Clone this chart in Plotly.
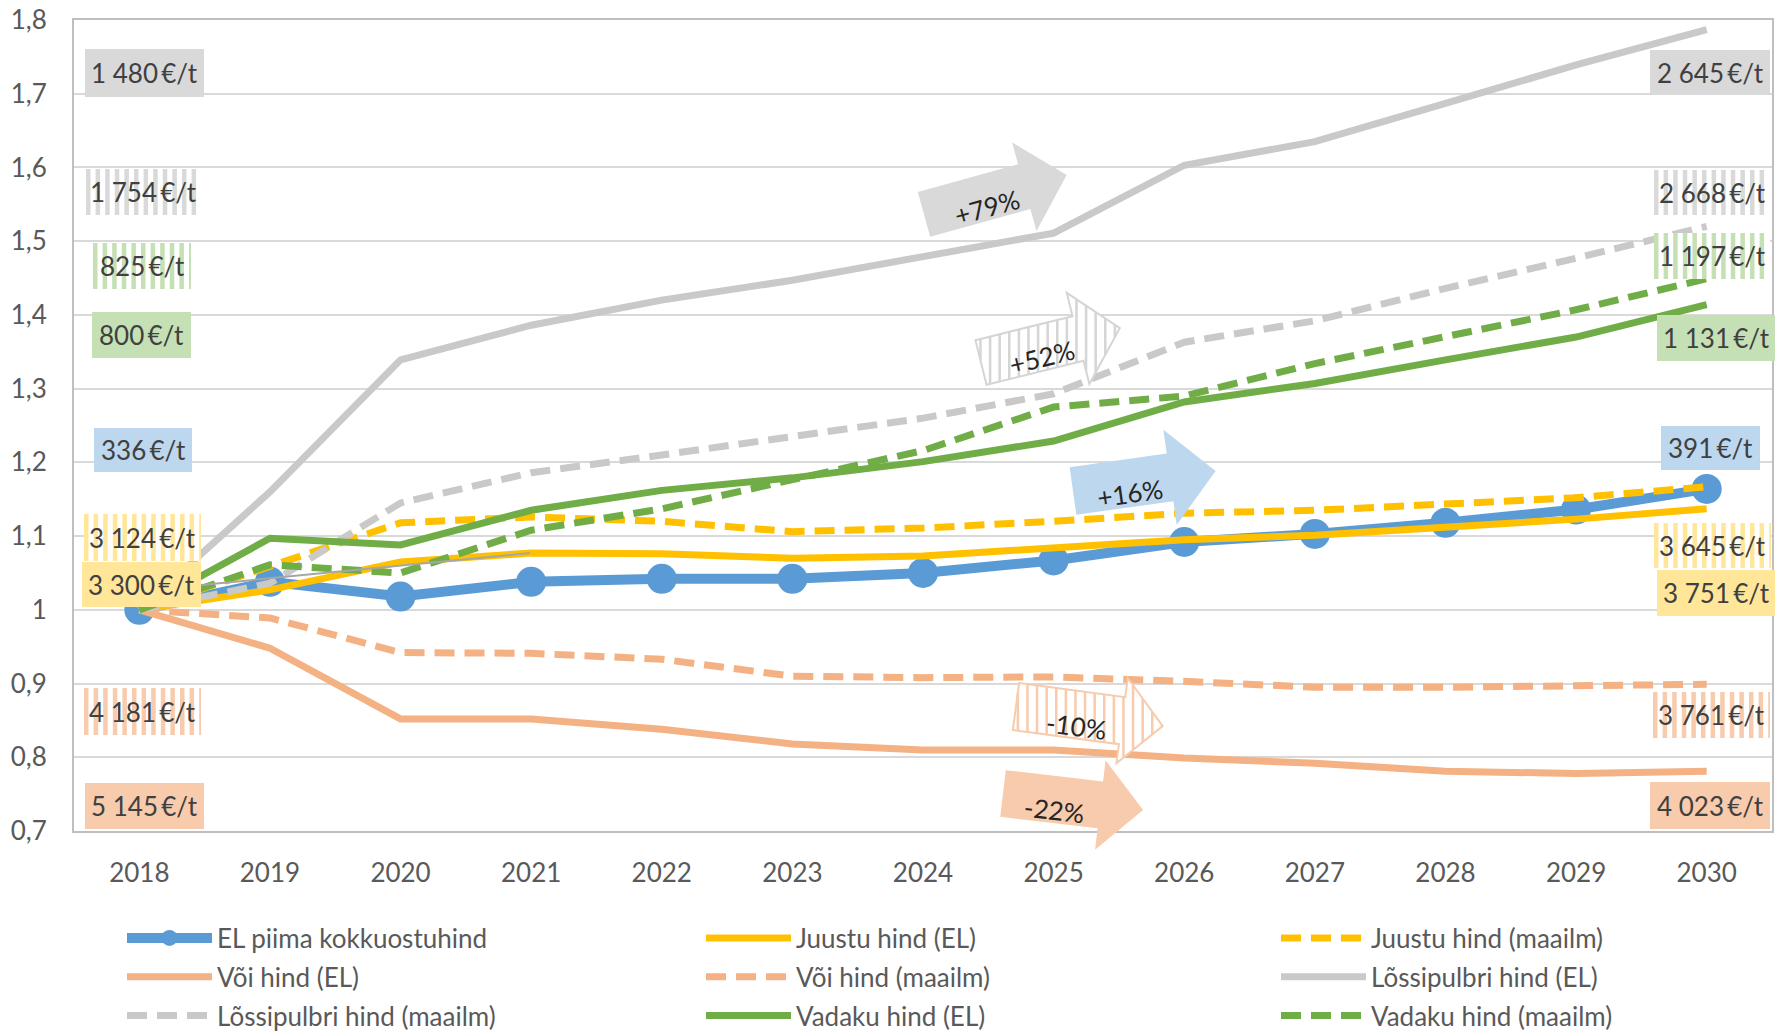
import math
import plotly.graph_objects as go

# data: price index, 2018 = 1
years = [str(y) for y in range(2018, 2031)]

piim_el = [1.0, 1.038, 1.018, 1.038, 1.042, 1.042, 1.05, 1.067, 1.092, 1.103, 1.118, 1.136, 1.164]
juust_el = [1.0, 1.027, 1.065, 1.077, 1.076, 1.070, 1.073, 1.085, 1.095, 1.101, 1.111, 1.123, 1.137]
juust_maailm = [1.0, 1.058, 1.118, 1.126, 1.120, 1.106, 1.111, 1.120, 1.131, 1.135, 1.143, 1.152, 1.167]
voi_el = [1.0, 0.948, 0.852, 0.852, 0.838, 0.818, 0.81, 0.81, 0.799, 0.792, 0.781, 0.778, 0.781]
voi_maailm = [1.0, 0.989, 0.942, 0.941, 0.933, 0.910, 0.908, 0.909, 0.903, 0.895, 0.895, 0.896, 0.899]
lossi_el = [1.0, 1.16, 1.339, 1.386, 1.42, 1.447, 1.479, 1.511, 1.603, 1.635, 1.687, 1.739, 1.787]
lossi_maailm = [1.0, 1.036, 1.145, 1.186, 1.21, 1.234, 1.26, 1.293, 1.363, 1.392, 1.436, 1.477, 1.52]
vadak_el = [1.0, 1.097, 1.088, 1.135, 1.162, 1.179, 1.201, 1.229, 1.282, 1.307, 1.339, 1.370, 1.414]
vadak_maailm = [1.0, 1.061, 1.05, 1.108, 1.137, 1.177, 1.216, 1.275, 1.29, 1.334, 1.371, 1.407, 1.449]

# prices in EUR/t (2018 and 2030) shown in the side boxes
price_2018 = [1480, 1754, 825, 800, 336, 3124, 3300, 4181, 5145]
price_2030 = [2645, 2668, 1197, 1131, 391, 3645, 3751, 3761, 4023]
changes = ['+79%', '+52%', '+16%', '-10%', '-22%']

y_ticks = [0.7, 0.8, 0.9, 1.0, 1.1, 1.2, 1.3, 1.4, 1.5, 1.6, 1.7, 1.8]
y_ticktext = ['0,7', '0,8', '0,9', '1', '1,1', '1,2', '1,3', '1,4', '1,5', '1,6', '1,7', '1,8']

BLUE = '#5b9bd5'
YELLOW = '#ffc000'
ORANGE = '#f4b183'
GREY = '#c9c9c9'
GREEN = '#70ad47'
FONT = 'Lato, Open Sans, sans-serif'
W, H = 1785, 1033
L, R, T, B = 74, 1772, 20, 831


def px(X):
    return (X - L) / (R - L)


def py(Y):
    return (B - Y) / (B - T)


def fmt(v):
    return f'{v:,}'.replace(',', ' ') + '\u2009€/t'


fig = go.Figure()

series = [
    ('EL piima kokkuostuhind', piim_el, BLUE, 'solid', 'legend'),
    ('Juustu hind (EL)', juust_el, YELLOW, 'solid', 'legend2'),
    ('Juustu hind (maailm)', juust_maailm, YELLOW, 'dash', 'legend3'),
    ('Või hind (EL)', voi_el, ORANGE, 'solid', 'legend'),
    ('Või hind (maailm)', voi_maailm, ORANGE, 'dash', 'legend2'),
    ('Lõssipulbri hind (EL)', lossi_el, GREY, 'solid', 'legend3'),
    ('Lõssipulbri hind (maailm)', lossi_maailm, GREY, 'dash', 'legend'),
    ('Vadaku hind (EL)', vadak_el, GREEN, 'solid', 'legend2'),
    ('Vadaku hind (maailm)', vadak_maailm, GREEN, 'dash', 'legend3'),
]
for name, vals, col, style, lg in series:
    if name.startswith('EL piima'):
        fig.add_scatter(x=years, y=vals, name=name, mode='lines+markers',
                        line=dict(color=col, width=10),
                        marker=dict(color=col, size=30), legend=lg, legendgroup=name)
    else:
        fig.add_scatter(x=years, y=vals, name=name, mode='lines',
                        line=dict(color=col, width=7,
                                  dash='20px,10px' if style == 'dash' else 'solid'),
                        legend=lg, legendgroup=name)

shapes = []

# thin leader line near the left yellow label
shapes.append(dict(type='line', xref='paper', yref='paper',
                   x0=px(201), y0=py(585), x1=px(530), y1=py(553),
                   line=dict(color='#a6a6a6', width=2)))


def label(x, y, text, color, angle=0):
    fig.add_annotation(xref='paper', yref='paper', x=px(x), y=py(y), text=text,
                       showarrow=False, xanchor='center', yanchor='middle',
                       textangle=angle, font=dict(size=26, color=color, family=FONT))


def box(x0, x1, y0, y1, color, striped, text):
    if striped:
        shapes.append(dict(type='rect', xref='paper', yref='paper',
                           x0=px(x0), x1=px(x1), y0=py(y1), y1=py(y0),
                           fillcolor='white', line=dict(width=0)))
        parts = []
        x = x0
        while x < x1 - 1:
            a, b = px(x), px(min(x + 4.5, x1))
            parts.append(f'M{a},{py(y0)} L{b},{py(y0)} L{b},{py(y1)} L{a},{py(y1)} Z')
            x += 9.6
        shapes.append(dict(type='path', xref='paper', yref='paper',
                           path=' '.join(parts), fillcolor=color, line=dict(width=0)))
    else:
        shapes.append(dict(type='rect', xref='paper', yref='paper',
                           x0=px(x0), x1=px(x1), y0=py(y1), y1=py(y0),
                           fillcolor=color, line=dict(width=0)))
    label((x0 + x1) / 2, (y0 + y1) / 2, text, '#404040')


box_colors = ['#d9d9d9', '#d9d9d9', '#c5e0b4', '#c5e0b4', '#bdd7ee',
              '#ffe699', '#ffe699', '#f8cbad', '#f8cbad']
box_striped = [False, True, True, False, False, True, False, True, False]
left_pos = [(85, 204, 49, 97), (86, 201, 169, 215), (93, 191, 243, 289),
            (92, 191, 312, 358), (94, 192, 428, 472), (84, 201, 514, 561),
            (82, 201, 562, 607), (84, 201, 688, 735), (85, 204, 783, 829)]
right_pos = [(1650, 1770, 50, 95), (1654, 1770, 170, 215), (1654, 1770, 233, 279),
             (1657, 1775, 315, 361), (1661, 1760, 426, 470), (1654, 1771, 523, 568),
             (1657, 1775, 570, 616), (1653, 1770, 692, 738), (1650, 1770, 782, 829)]
for i in range(9):
    box(*left_pos[i], box_colors[i], box_striped[i], fmt(price_2018[i]))
    box(*right_pos[i], box_colors[i], box_striped[i], fmt(price_2030[i]))


def arrow_poly(cx, cy, ang, length, h, hw, hl):
    t = math.radians(ang)
    c, s = math.cos(t), math.sin(t)
    local = [(0, -h), (length - hl, -h), (length - hl, -hw), (length, 0),
             (length - hl, hw), (length - hl, h), (0, h)]
    return [(cx + u * c - v * s, cy + u * s + v * c) for u, v in local]


def poly_path(pts):
    return 'M' + ' L'.join(f'{px(x)},{py(y)}' for x, y in pts) + ' Z'


def vertical_cuts(pts, x):
    ys = []
    n = len(pts)
    for i in range(n):
        (x1, y1), (x2, y2) = pts[i], pts[(i + 1) % n]
        if (x1 - x) * (x2 - x) < 0:
            ys.append(y1 + (y2 - y1) * (x - x1) / (x2 - x1))
    ys.sort()
    return [(ys[k], ys[k + 1]) for k in range(0, len(ys) - 1, 2)]


arrows = [
    # tail x, tail y, angle, length, half body, half head, head length, colour, striped, text x, text y
    (924, 214.3, -15.4, 148, 23.2, 46, 44, '#d9d9d9', False, 987, 207),
    (981, 362.5, -13.9, 143, 23, 47, 43, '#d5d5d5', True, 1042, 357),
    (1073, 491, -8.0, 144, 24, 48, 46, '#bdd7ee', False, 1130, 493),
    (1016, 706.5, 7.6, 148, 23.7, 43, 41, '#f8cbad', True, 1076, 726),
    (1003, 793.5, 6.7, 141, 23.5, 45, 43, '#f8cbad', False, 1054, 810),
]
for (cx, cy, ang, ln, h, hw, hl, col, striped, tx, ty), txt in zip(arrows, changes):
    pts = arrow_poly(cx, cy, ang, ln, h, hw, hl)
    if striped:
        shapes.append(dict(type='path', xref='paper', yref='paper', path=poly_path(pts),
                           fillcolor='white', line=dict(color=col, width=2)))
        xs = [p[0] for p in pts]
        segs = []
        x = min(xs) + 5
        while x < max(xs):
            for y0, y1 in vertical_cuts(pts, x):
                segs.append(f'M{px(x)},{py(y0)} L{px(x)},{py(y1)}')
            x += 9.6
        shapes.append(dict(type='path', xref='paper', yref='paper', path=' '.join(segs),
                           line=dict(color=col, width=2.5)))
    else:
        shapes.append(dict(type='path', xref='paper', yref='paper', path=poly_path(pts),
                           fillcolor=col, line=dict(width=0)))
    label(tx, ty, txt, '#262626', ang)

legend_style = dict(orientation='v', xanchor='left', yanchor='top', y=-0.103,
                    bgcolor='rgba(0,0,0,0)', itemwidth=85, tracegroupgap=2,
                    font=dict(size=26, color='#595959', family=FONT))

fig.update_layout(
    width=W, height=H,
    margin=dict(l=L, r=W - R, t=T, b=H - B, autoexpand=False),
    paper_bgcolor='white', plot_bgcolor='white',
    font=dict(family=FONT, size=26, color='#595959'),
    shapes=shapes,
    legend=dict(x=px(122), **legend_style),
    legend2=dict(x=px(701), **legend_style),
    legend3=dict(x=px(1276), **legend_style),
    xaxis=dict(type='category', range=[-0.5, 12.5], showgrid=False,
               showline=True, mirror=True, linecolor='#bfbfbf', linewidth=2,
               ticks='', ticklabelstandoff=18,
               tickfont=dict(size=26, color='#595959')),
    yaxis=dict(range=[0.7, 1.8], tickvals=y_ticks, ticktext=y_ticktext,
               showgrid=True, gridcolor='#d9d9d9', gridwidth=2, zeroline=False,
               showline=True, mirror=True, linecolor='#bfbfbf', linewidth=2,
               ticks='', ticklabelstandoff=20,
               tickfont=dict(size=26, color='#595959')),
)

fig.write_html('out.html', config={'displayModeBar': False},
               post_script="document.body.style.margin='0px';")
